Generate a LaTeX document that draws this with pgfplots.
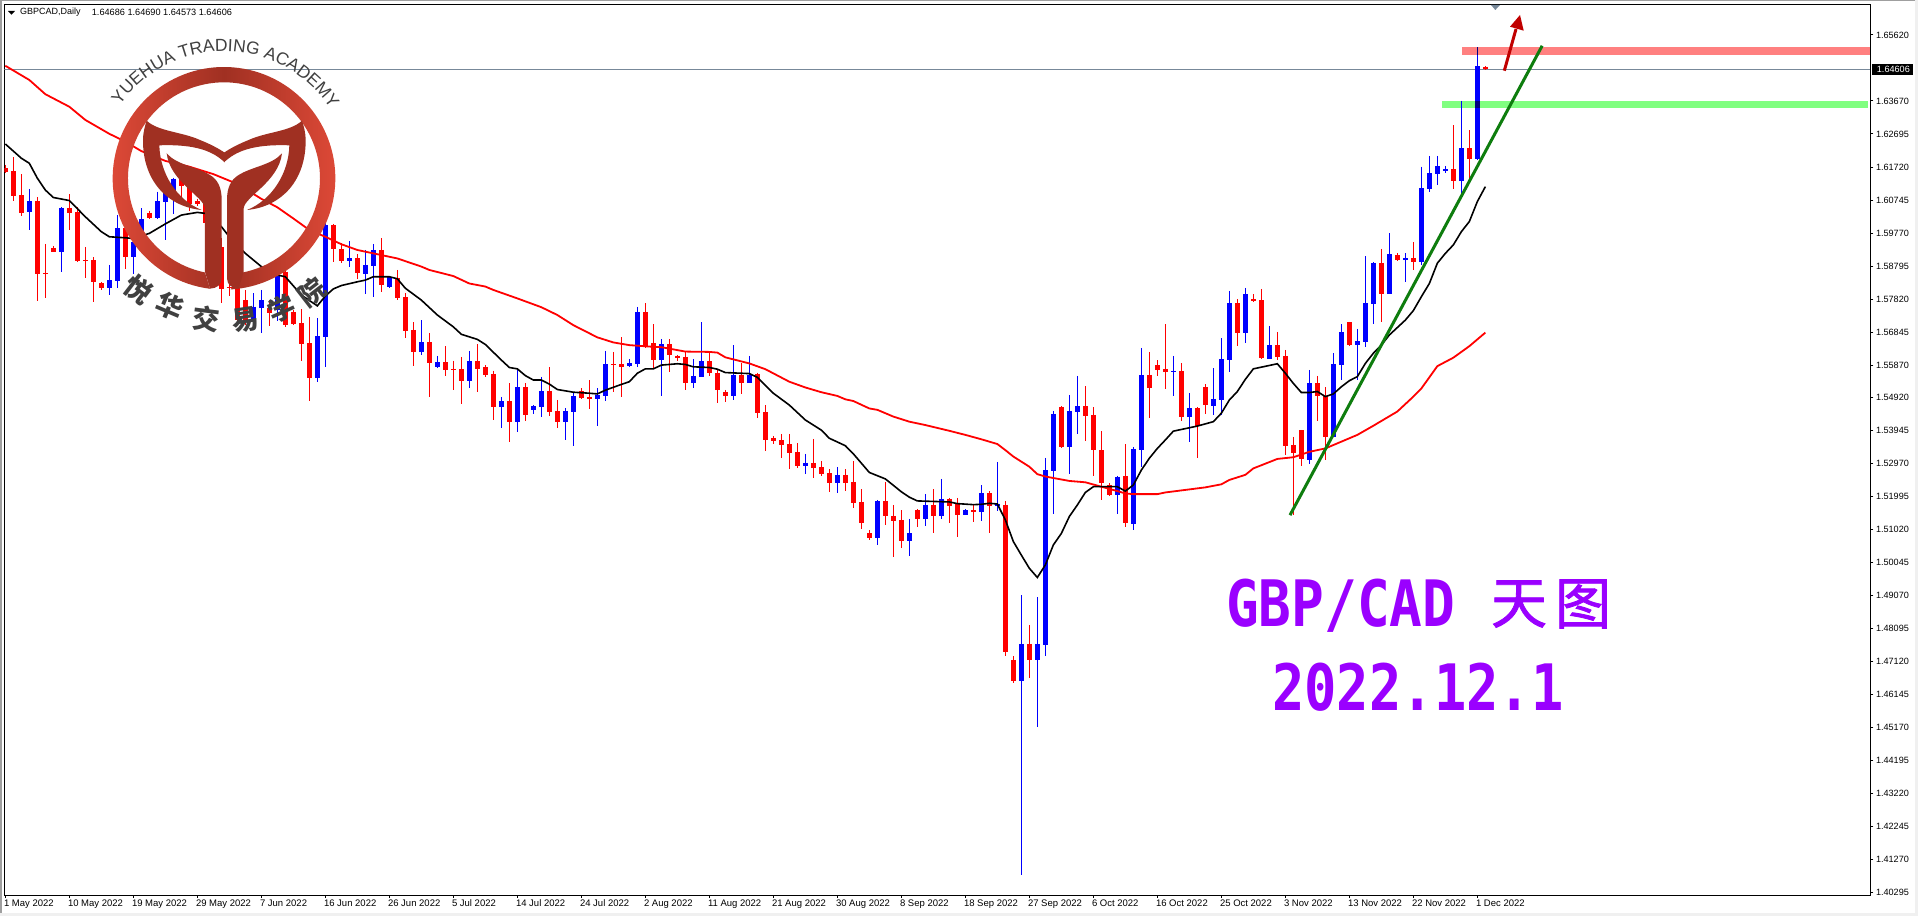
\documentclass[border=0pt]{standalone}
\usepackage{fontspec}
\usepackage{pgfplots}
\usepackage{pgfplotstable}
\pgfplotsset{compat=1.18}
\usetikzlibrary{decorations.text}
\setmainfont{Liberation Sans}
\newfontfamily\monofnt{DejaVu Sans Mono}[BoldFont={DejaVu Sans Mono Bold}]
\newfontfamily\cjk{Noto Sans CJK SC}
\newfontfamily\cjkcap{Noto Sans CJK SC}[FakeBold=1.5]
\definecolor{barred}{HTML}{FF0000}
\definecolor{barblue}{HTML}{0000FF}
\definecolor{gridgray}{HTML}{778899}
\definecolor{zonered}{HTML}{FF8080}
\definecolor{zonegreen}{HTML}{80FF80}
\definecolor{trend}{HTML}{0E7D0E}
\definecolor{arrowred}{HTML}{C00000}
\definecolor{caption}{HTML}{9A00FF}
\definecolor{logomid}{HTML}{A03022}
\definecolor{logoedge}{HTML}{E04A38}
\definecolor{logotext}{HTML}{404040}

% daily candles: index, high, body top, body bottom, low
\pgfplotstableread{
i h t b l
0 1.6178 1.6168 1.6156 1.6153
1 1.6201 1.6159 1.6087 1.6073
2 1.6151 1.6088 1.6037 1.6028
4 1.6082 1.6071 1.5857 1.5777
5 1.5945 1.5858 1.5855 1.5786
6 1.5939 1.5932 1.5922 1.5920
8 1.6091 1.6050 1.6037 1.5986
9 1.6053 1.6038 1.5895 1.5892
10 1.5936 1.5897 1.5895 1.5845
11 1.5906 1.5897 1.5831 1.5774
12 1.5833 1.5829 1.5816 1.5810
15 1.6004 1.5991 1.5907 1.5872
18 1.6043 1.6037 1.6021 1.6018
22 1.6153 1.6136 1.6117 1.6075
23 1.6129 1.6118 1.6063 1.6043
24 1.6079 1.6072 1.6062 1.6057
25 1.6114 1.6065 1.6006 1.5996
26 1.6035 1.6016 1.5957 1.5917
27 1.5961 1.5935 1.5813 1.5771
28 1.5878 1.5817 1.5814 1.5791
29 1.5829 1.5814 1.5720 1.5715
30 1.5809 1.5779 1.5720 1.5705
33 1.5779 1.5755 1.5742 1.5703
35 1.5878 1.5863 1.5704 1.5701
36 1.5750 1.5743 1.5709 1.5705
37 1.5752 1.5710 1.5650 1.5600
38 1.5730 1.5651 1.5550 1.5482
41 1.6004 1.6000 1.5931 1.5891
42 1.5947 1.5930 1.5894 1.5890
44 1.5915 1.5903 1.5860 1.5840
47 1.5962 1.5927 1.5825 1.5803
49 1.5868 1.5843 1.5786 1.5779
50 1.5799 1.5787 1.5689 1.5667
51 1.5714 1.5691 1.5627 1.5584
53 1.5682 1.5655 1.5594 1.5493
55 1.5643 1.5596 1.5573 1.5555
56 1.5600 1.5576 1.5573 1.5513
57 1.5611 1.5576 1.5540 1.5472
59 1.5649 1.5599 1.5576 1.5508
60 1.5587 1.5581 1.5558 1.5552
61 1.5571 1.5561 1.5463 1.5425
63 1.5534 1.5481 1.5419 1.5360
65 1.5534 1.5522 1.5440 1.5422
68 1.5581 1.5511 1.5449 1.5437
69 1.5484 1.5452 1.5419 1.5401
72 1.5519 1.5511 1.5490 1.5487
73 1.5543 1.5493 1.5487 1.5457
76 1.5626 1.5590 1.5587 1.5508
77 1.5670 1.5590 1.5581 1.5493
80 1.5770 1.5744 1.5644 1.5637
81 1.5708 1.5652 1.5602 1.5578
83 1.5664 1.5649 1.5617 1.5567
84 1.5617 1.5614 1.5608 1.5599
85 1.5627 1.5611 1.5534 1.5514
88 1.5622 1.5599 1.5564 1.5555
89 1.5573 1.5564 1.5514 1.5475
90 1.5514 1.5508 1.5496 1.5478
92 1.5593 1.5558 1.5534 1.5502
94 1.5565 1.5561 1.5446 1.5431
95 1.5469 1.5449 1.5366 1.5333
96 1.5378 1.5372 1.5363 1.5354
97 1.5384 1.5366 1.5351 1.5313
98 1.5384 1.5354 1.5327 1.5280
99 1.5357 1.5330 1.5289 1.5283
101 1.5369 1.5298 1.5283 1.5254
102 1.5304 1.5286 1.5265 1.5260
103 1.5280 1.5268 1.5239 1.5212
105 1.5280 1.5263 1.5239 1.5215
106 1.5304 1.5242 1.5180 1.5165
107 1.5221 1.5183 1.5121 1.5103
108 1.5100 1.5091 1.5077 1.5071
110 1.5242 1.5186 1.5142 1.5115
111 1.5174 1.5142 1.5127 1.5020
112 1.5159 1.5130 1.5068 1.5047
114 1.5162 1.5159 1.5133 1.5109
116 1.5221 1.5174 1.5142 1.5091
118 1.5195 1.5192 1.5171 1.5121
119 1.5195 1.5177 1.5144 1.5080
121 1.5174 1.5159 1.5153 1.5124
123 1.5215 1.5209 1.5171 1.5091
125 1.5186 1.5174 1.4740 1.4728
126 1.4728 1.4716 1.4654 1.4648
128 1.4820 1.4764 1.4716 1.4663
132 1.5466 1.5463 1.5345 1.5342
135 1.5525 1.5466 1.5437 1.5363
136 1.5463 1.5440 1.5336 1.5260
137 1.5392 1.5336 1.5239 1.5189
138 1.5239 1.5233 1.5203 1.5201
140 1.5354 1.5260 1.5121 1.5109
143 1.5626 1.5558 1.5519 1.5431
144 1.5602 1.5587 1.5573 1.5555
145 1.5708 1.5576 1.5567 1.5516
147 1.5593 1.5570 1.5434 1.5422
149 1.5463 1.5460 1.5407 1.5313
150 1.5531 1.5522 1.5469 1.5443
154 1.5782 1.5770 1.5682 1.5643
156 1.5797 1.5782 1.5776 1.5773
157 1.5812 1.5779 1.5608 1.5605
159 1.5685 1.5646 1.5611 1.5602
160 1.5632 1.5614 1.5348 1.5322
161 1.5375 1.5351 1.5328 1.5144
162 1.5396 1.5395 1.5310 1.5289
164 1.5555 1.5534 1.5496 1.5422
165 1.5522 1.5496 1.5375 1.5307
168 1.5715 1.5714 1.5646 1.5643
172 1.5930 1.5889 1.5797 1.5714
174 1.5918 1.5912 1.5897 1.5894
176 1.5951 1.5903 1.5891 1.5868
181 1.6296 1.6166 1.6131 1.6107
183 1.6281 1.6228 1.6196 1.6134
185 1.64690 1.64686 1.64606 1.64573
}\redbars

\pgfplotstableread{
i h t b l
3 1.6106 1.6071 1.6040 1.5986
7 1.6053 1.6051 1.5922 1.5863
13 1.5883 1.5837 1.5816 1.5794
14 1.6029 1.5991 1.5836 1.5816
16 1.5986 1.5952 1.5907 1.5856
17 1.6050 1.6018 1.5971 1.5957
19 1.6099 1.6071 1.6021 1.6018
20 1.6144 1.6099 1.6070 1.5955
21 1.6141 1.6137 1.6094 1.6033
31 1.5799 1.5760 1.5720 1.5696
32 1.5809 1.5779 1.5755 1.5681
34 1.5868 1.5853 1.5750 1.5718
39 1.5725 1.5673 1.5550 1.5538
40 1.6006 1.6000 1.5671 1.5582
43 1.5953 1.5903 1.5895 1.5878
45 1.5927 1.5883 1.5857 1.5797
46 1.5945 1.5927 1.5881 1.5789
48 1.5848 1.5846 1.5819 1.5816
52 1.5720 1.5655 1.5626 1.5618
54 1.5614 1.5596 1.5581 1.5578
58 1.5629 1.5599 1.5540 1.5519
62 1.5493 1.5481 1.5463 1.5401
64 1.5573 1.5522 1.5419 1.5390
66 1.5469 1.5466 1.5454 1.5443
67 1.5552 1.5511 1.5463 1.5434
70 1.5460 1.5452 1.5419 1.5366
71 1.5508 1.5496 1.5449 1.5348
74 1.5519 1.5499 1.5487 1.5407
75 1.5629 1.5590 1.5496 1.5481
78 1.5605 1.5593 1.5584 1.5581
79 1.5759 1.5744 1.5590 1.5581
82 1.5664 1.5649 1.5602 1.5496
86 1.5605 1.5555 1.5534 1.5519
87 1.5714 1.5599 1.5552 1.5551
91 1.5646 1.5558 1.5496 1.5484
93 1.5614 1.5558 1.5534 1.5533
100 1.5325 1.5298 1.5289 1.5265
104 1.5286 1.5263 1.5239 1.5209
109 1.5189 1.5186 1.5077 1.5056
113 1.5133 1.5091 1.5068 1.5023
115 1.5206 1.5174 1.5133 1.5112
117 1.5251 1.5192 1.5142 1.5133
120 1.5162 1.5159 1.5144 1.5143
122 1.5233 1.5209 1.5153 1.5127
124 1.5301 1.5177 1.5172 1.5156
127 1.4908 1.4764 1.4654 1.4081
129 1.4902 1.4764 1.4716 1.4518
130 1.5313 1.5277 1.4761 1.4728
131 1.5452 1.5443 1.5274 1.5147
133 1.5499 1.5452 1.5345 1.5266
134 1.5555 1.5466 1.5449 1.5384
139 1.5260 1.5258 1.5203 1.5147
141 1.5345 1.5339 1.5118 1.5100
142 1.5638 1.5558 1.5336 1.5286
146 1.5614 1.5570 1.5567 1.5496
148 1.5505 1.5460 1.5434 1.5360
151 1.5578 1.5487 1.5466 1.5440
152 1.5667 1.5605 1.5484 1.5440
153 1.5806 1.5770 1.5602 1.5567
155 1.5815 1.5797 1.5682 1.5652
158 1.5703 1.5646 1.5605 1.5604
163 1.5573 1.5534 1.5307 1.5295
166 1.5623 1.5590 1.5375 1.5374
167 1.5708 1.5685 1.5587 1.5543
169 1.5694 1.5658 1.5646 1.5543
170 1.5909 1.5770 1.5655 1.5640
171 1.5891 1.5889 1.5767 1.5708
173 1.5977 1.5915 1.5797 1.5796
175 1.5918 1.5903 1.5897 1.5832
177 1.6173 1.6110 1.5892 1.5883
178 1.6205 1.6154 1.6107 1.6098
179 1.6205 1.6175 1.6151 1.6119
180 1.6175 1.6166 1.6160 1.6154
182 1.6367 1.6228 1.6131 1.6094
184 1.6526 1.6470 1.6196 1.6193
}\bluebars

% the two moving averages
\pgfplotstableread{
i v
0 1.6240
2 1.6198
3 1.6183
4 1.6139
5 1.6104
6 1.6082
8 1.6073
10 1.6025
12 1.5981
13 1.5966
15 1.5963
16 1.5961
18 1.5976
20 1.6004
22 1.6030
24 1.6038
25 1.6035
27 1.5996
28 1.5966
30 1.5917
32 1.5878
34 1.5853
35 1.5848
37 1.5794
39 1.5762
40 1.5791
41 1.5812
42 1.5822
44 1.5833
45 1.5838
46 1.5848
48 1.5848
49 1.5842
50 1.5814
52 1.5779
54 1.5735
56 1.5700
57 1.5678
59 1.5663
60 1.5648
62 1.5602
63 1.5580
64 1.5576
65 1.5556
66 1.5543
67 1.5543
68 1.5531
69 1.5515
71 1.5507
73 1.5504
74 1.5502
75 1.5513
77 1.5530
78 1.5538
79 1.5563
80 1.5576
81 1.5576
82 1.5587
84 1.5591
85 1.5589
86 1.5582
88 1.5580
89 1.5575
90 1.5565
93 1.5562
94 1.5551
96 1.5504
98 1.5469
100 1.5425
102 1.5395
103 1.5371
105 1.5349
106 1.5325
108 1.5270
110 1.5251
112 1.5213
113 1.5197
114 1.5186
118 1.5183
119 1.5178
121 1.5175
122 1.5176
123 1.5179
124 1.5177
125 1.5130
126 1.5066
127 1.5026
128 1.4987
129 1.4960
130 1.4997
131 1.5056
132 1.5090
133 1.5140
134 1.5174
135 1.5211
136 1.5228
139 1.5228
140 1.5215
141 1.5233
142 1.5277
143 1.5312
144 1.5341
145 1.5366
146 1.5392
149 1.5407
151 1.5420
152 1.5445
153 1.5484
154 1.5509
155 1.5545
156 1.5576
159 1.5591
160 1.5563
161 1.5533
162 1.5506
163 1.5506
164 1.5509
165 1.5494
166 1.5502
167 1.5523
168 1.5541
169 1.5553
170 1.5592
171 1.5622
172 1.5646
173 1.5676
175 1.5720
176 1.5748
177 1.5789
178 1.5828
179 1.5888
180 1.5917
181 1.5942
182 1.5981
183 1.6011
184 1.6070
185 1.6114
}\fastma

\pgfplotstableread{
i v
0 1.6471
3 1.6429
5 1.6387
8 1.6350
10 1.6311
13 1.6270
15 1.6247
17 1.6219
20 1.6190
23 1.6173
26 1.6151
29 1.6122
32 1.6078
34 1.6053
36 1.6020
38 1.5986
40 1.5966
42 1.5944
44 1.5927
46 1.5917
48 1.5907
49 1.5902
52 1.5878
53 1.5868
56 1.5850
58 1.5828
60 1.5819
61 1.5809
64 1.5784
67 1.5758
69 1.5735
71 1.5705
74 1.5669
76 1.5654
78 1.5646
81 1.5641
82 1.5640
85 1.5627
88 1.5626
89 1.5624
90 1.5610
93 1.5592
95 1.5575
98 1.5538
100 1.5521
102 1.5507
104 1.5496
105 1.5486
106 1.5481
108 1.5459
109 1.5455
111 1.5435
113 1.5420
115 1.5410
118 1.5393
120 1.5381
122 1.5368
124 1.5354
125 1.5336
126 1.5317
128 1.5287
129 1.5265
130 1.5258
133 1.5245
135 1.5241
137 1.5228
139 1.5215
140 1.5208
141 1.5206
144 1.5206
145 1.5211
148 1.5220
150 1.5226
152 1.5235
153 1.5248
155 1.5263
156 1.5282
159 1.5310
161 1.5315
163 1.5331
165 1.5341
167 1.5361
169 1.5381
171 1.5408
174 1.5450
176 1.5494
177 1.5518
179 1.5584
181 1.5609
183 1.5643
185 1.5683
}\slowma

\pgfplotsset{
  wick/.style={draw=none, mark=none, forget plot,
    error bars/.cd, y dir=minus, y explicit, error mark=none,
    error bar style={draw=#1, line width=1pt}},
  body/.style={draw=none, mark=none, forget plot,
    error bars/.cd, y dir=minus, y explicit, error mark=none,
    error bar style={draw=#1, line width=5pt}},
}

% one half of the logo, in units of a third of a pixel
\newcommand{\halflogo}{%
  \fill[logomid] (440,362) .. controls (475,395) and (545,395) .. (600,420)
    .. controls (630,432) and (655,445) .. (674,458) -- (674,487)
    .. controls (640,455) and (590,432) .. (478,436)
    .. controls (480,520) and (530,600) .. (605,630)
    .. controls (500,620) and (428,540) .. (429,420)
    .. controls (429,400) and (434,380) .. (440,362) -- cycle;
  \fill[logomid] (500,460) .. controls (530,495) and (590,500) .. (630,525)
    .. controls (655,540) and (665,565) .. (665,600) -- (665,835)
    .. controls (665,855) and (650,865) .. (630,866) -- (615,815) -- (615,625)
    .. controls (612,590) and (510,545) .. (500,460) -- cycle;
}

\begin{document}
\begin{tikzpicture}
\path[use as bounding box] (0,2pt) rectangle (1918pt,918pt);
\fill[white] (0,2pt) rectangle (1918pt,918pt);
\fill[gray!75] (0,916.5pt) rectangle (1918pt,918pt);
\fill[gray!75] (0,2pt) rectangle (2pt,918pt);
\fill[gray!12] (0,2pt) rectangle (1918pt,5pt);
\fill[gray!12] (1915pt,2pt) rectangle (1918pt,918pt);
\begin{axis}[
  at={(4.5pt,23pt)}, anchor=south west,
  scale only axis,
  width=1865.8pt, height=890.5pt,
  xmin=-0.104, xmax=233.12,
  ymin=1.40223, ymax=1.66519,
  axis line style={line width=1pt, black},
  tick style={line width=1pt, black},
  tick align=outside,
  major tick length=3pt,
  xtick pos=bottom,
  ytick pos=right,
  xtick={0,8,...,184},
  xticklabels={1 May 2022,10 May 2022,19 May 2022,29 May 2022,7 Jun 2022,16 Jun 2022,26 Jun 2022,5 Jul 2022,14 Jul 2022,24 Jul 2022,2 Aug 2022,11 Aug 2022,21 Aug 2022,30 Aug 2022,8 Sep 2022,18 Sep 2022,27 Sep 2022,6 Oct 2022,16 Oct 2022,25 Oct 2022,3 Nov 2022,13 Nov 2022,22 Nov 2022,1 Dec 2022},
  xticklabel style={font=\fontsize{9.5}{11}\selectfont, anchor=north west, inner sep=0pt, xshift=-1.5pt, yshift=-1.5pt},
  ytick={1.65620,1.63670,1.62695,1.61720,1.60745,1.59770,1.58795,1.57820,1.56845,1.55870,1.54920,1.53945,1.52970,1.51995,1.51020,1.50045,1.49070,1.48095,1.47120,1.46145,1.45170,1.44195,1.43220,1.42245,1.41270,1.40295},
  yticklabels={1.65620,1.63670,1.62695,1.61720,1.60745,1.59770,1.58795,1.57820,1.56845,1.55870,1.54920,1.53945,1.52970,1.51995,1.51020,1.50045,1.49070,1.48095,1.47120,1.46145,1.45170,1.44195,1.43220,1.42245,1.41270,1.40295},
  yticklabel style={font=\fontsize{9.1}{11}\selectfont, anchor=west, inner sep=0pt, xshift=2.5pt},
]
% price zones
\addplot[fill=zonered, draw=none, forget plot] coordinates {(182.1,1.65264)(233.12,1.65264)(233.12,1.65028)(182.1,1.65028)} -- cycle;
\addplot[fill=zonegreen, draw=none, forget plot] coordinates {(179.6,1.63669)(232.8,1.63669)(232.8,1.63463)(179.6,1.63463)} -- cycle;
\addplot[gridgray, line width=1pt, forget plot] coordinates {(-0.104,1.64606)(233.12,1.64606)};
% candles
\addplot[wick=barred] table[x=i, y=h, y error minus expr=\thisrow{h}-\thisrow{l}] {\redbars};
\addplot[wick=barblue] table[x=i, y=h, y error minus expr=\thisrow{h}-\thisrow{l}] {\bluebars};
\addplot[body=barred] table[x=i, y=t, y error minus expr=\thisrow{t}-\thisrow{b}] {\redbars};
\addplot[body=barblue] table[x=i, y=t, y error minus expr=\thisrow{t}-\thisrow{b}] {\bluebars};
% moving averages
\addplot[barred, line width=1.8pt, forget plot] table[x=i, y=v] {\slowma};
\addplot[black, line width=1.6pt, forget plot] table[x=i, y=v] {\fastma};
% trend line
\addplot[trend, line width=3pt, forget plot] coordinates {(160.58,1.5144)(192.1,1.6530)};
\end{axis}
% annotations, in reference pixels (y down)
\begin{scope}[x=1pt, y=-1pt, shift={(0pt,918pt)}]
  \fill[black] (8,11) -- (15,11) -- (11.4,14.7) -- cycle;
  \node[anchor=west, inner sep=0pt, font=\fontsize{9.0}{11}\selectfont] at (20,12.5) {GBPCAD,Daily};
  \node[anchor=west, inner sep=0pt, font=\fontsize{9.16}{11}\selectfont] at (91.7,12.5) {1.64686 1.64690 1.64573 1.64606};
  \fill[gridgray] (1491,5) -- (1500,5) -- (1495.3,10) -- cycle;
  \fill[black] (1872,64) rectangle (1912.7,74.7);
  \node[anchor=west, inner sep=0pt, text=white, font=\fontsize{9.1}{11}\selectfont] at (1876.7,69.3) {1.64606};
  \fill[blue!50!black] (1474.8,101) rectangle (1479.8,108);
  \fill[blue!50!black] (1476.8,47) rectangle (1477.8,55);
  \draw[arrowred, line width=3pt] (1504.3,70.7) -- (1516,29);
  \fill[arrowred] (1520,15) -- (1510,26.7) -- (1523.7,30.7) -- cycle;
  \node[anchor=west, inner sep=0pt, text=caption, font=\monofnt\bfseries\fontsize{64}{68}\selectfont] at (1226,606) {\scalebox{0.85}[1]{GBP/CAD}};
  \node[anchor=center, inner sep=0pt, text=caption, font=\cjkcap\fontsize{56}{60}\selectfont] at (1519,604) {天};
  \node[anchor=center, inner sep=0pt, text=caption, font=\cjkcap\fontsize{56}{60}\selectfont] at (1583,604) {图};
  \node[anchor=west, inner sep=0pt, text=caption, font=\monofnt\bfseries\fontsize{64}{68}\selectfont] at (1272,687) {\scalebox{0.84}[1]{2022.12.1}};
\end{scope}
% logo
\begin{scope}[x=0.33333pt, y=-0.33333pt, shift={(0pt,918pt)}]
  \shade[left color=logoedge, right color=logoedge, middle color=logomid]
    (672,535) ++(97.2:334) arc[start angle=97.2, end angle=446.6, radius=334]
    -- (728.9,817.3) arc[start angle=438.6, end angle=101.4, radius=288] -- cycle;
  \halflogo
  \node[rotate=-37.5, text=logotext, font=\cjk\bfseries\fontsize{27}{30}\selectfont] at (415,870) {悦};
  \node[rotate=-22.8, text=logotext, font=\cjk\bfseries\fontsize{27}{30}\selectfont] at (510,920) {华};
  \node[rotate=-7.2, text=logotext, font=\cjk\bfseries\fontsize{27}{30}\selectfont] at (620,955) {交};
  \node[rotate=8.7, text=logotext, font=\cjk\bfseries\fontsize{27}{30}\selectfont] at (735,960) {易};
  \node[rotate=24, text=logotext, font=\cjk\bfseries\fontsize{27}{30}\selectfont] at (845,925) {学};
  \node[rotate=37.7, text=logotext, font=\cjk\bfseries\fontsize{27}{30}\selectfont] at (935,875) {院};
\end{scope}
\begin{scope}[x=-0.33333pt, y=-0.33333pt, shift={(448.67pt,918pt)}]
  \halflogo
\end{scope}
\path[decorate, decoration={text along path, text align=center, text color=logotext,
    text={|\fontsize{17.5}{20}\selectfont|YUEHUA TRADING ACADEMY}}]
  (224pt,739.7pt) ++(147:127pt) arc[start angle=147, end angle=31, radius=127pt];
\end{tikzpicture}
\end{document}
